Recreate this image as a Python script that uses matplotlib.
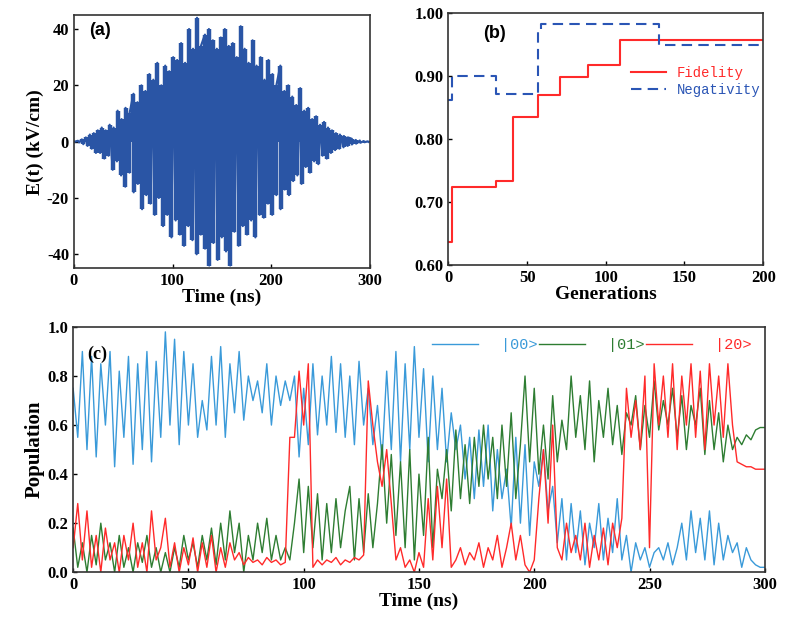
import numpy as np
import matplotlib
matplotlib.use('Agg')
import matplotlib.pyplot as plt

plt.rcParams['font.family'] = ['Liberation Serif', 'DejaVu Serif']
plt.rcParams['font.weight'] = 'bold'
plt.rcParams['axes.unicode_minus'] = False

# (a) field peaks, upper and lower
field_top = [0, 0.3, 0.8, 1.5, 2.5, 3, 4, 5, 4, 6, 5, 11, 8, 12, 10, 17, 14, 20, 18, 24,
             22, 28, 20, 27, 25, 30, 29, 35, 28, 40, 33, 44, 34, 38, 40, 36, 33, 37, 40, 34,
             35, 30, 41, 33, 28, 36, 27, 30, 22, 29, 24, 20, 27, 18, 20, 16, 13, 19, 11, 12,
             8, 9, 6, 7, 5, 4, 3, 2.5, 2, 1.5, 1, 0.6, 0.4, 0.2, 0.1]
field_bot = [0, -0.3, -0.9, -1.5, -2.5, -4, -4, -6, -5, -10, -7, -12, -16, -11, -18, -15,
             -24, -19, -22, -26, -20, -30, -26, -34, -28, -33, -37, -30, -35, -40, -33, -38,
             -44, -36, -42, -34, -39, -44, -32, -37, -30, -33, -28, -34, -26, -27, -22, -26,
             -19, -24, -17, -19, -14, -12, -15, -9, -11, -7, -8, -5, -6, -4, -3, -2.5, -2,
             -1.5, -1, -0.7, -0.4, -0.2, -0.1]

# (b) step data
fid_gen = [0, 2, 30, 41, 57, 71, 89, 109, 200]
fid_val = [0.637, 0.724, 0.734, 0.835, 0.870, 0.898, 0.918, 0.957, 0.957]
neg_gen = [0, 2, 30, 57, 59, 134, 200]
neg_val = [0.862, 0.900, 0.872, 0.975, 0.982, 0.950, 0.950]

# (c) populations every 2 ns
pop00 = [0.75,0.55,0.9,0.5,0.88,0.47,0.85,0.6,0.9,0.43,
         0.82,0.55,0.88,0.44,0.85,0.5,0.9,0.45,0.86,0.55,
         0.98,0.6,0.95,0.52,0.9,0.6,0.85,0.55,0.7,0.58,
         0.88,0.6,0.92,0.55,0.85,0.65,0.9,0.62,0.8,0.7,
         0.78,0.65,0.85,0.6,0.8,0.68,0.78,0.7,0.8,0.47,
         0.75,0.52,0.85,0.56,0.8,0.6,0.88,0.57,0.85,0.55,
         0.8,0.52,0.86,0.6,0.75,0.52,0.68,0.46,0.82,0.5,
         0.9,0.45,0.85,0.5,0.92,0.55,0.83,0.45,0.8,0.5,
         0.75,0.45,0.65,0.5,0.6,0.38,0.55,0.3,0.58,0.35,
         0.6,0.25,0.5,0.3,0.42,0.18,0.55,0.2,0.52,0.15,
         0.45,0.35,0.5,0.25,0.35,0.12,0.3,0.05,0.28,0.08,
         0.25,0.03,0.2,0.1,0.28,0.05,0.22,0.08,0.3,0.05,
         0.15,0.0,0.12,0.05,0.1,0.02,0.08,0.1,0.05,0.12,
         0.03,0.1,0.2,0.05,0.25,0.08,0.22,0.05,0.25,0.03,
         0.2,0.05,0.15,0.08,0.12,0.02,0.1,0.05,0.03,0.02,
         0.02]
pop01 = [0.18,0.02,0.12,0.0,0.15,0.03,0.2,0.05,0.12,0.0,
         0.15,0.02,0.1,0.0,0.12,0.04,0.15,0.02,0.1,0.0,
         0.08,0.0,0.1,0.02,0.15,0.05,0.12,0.02,0.15,0.05,
         0.18,0.03,0.2,0.05,0.25,0.08,0.2,0.0,0.15,0.05,
         0.2,0.08,0.22,0.05,0.15,0.05,0.1,0.05,0.2,0.38,
         0.08,0.35,0.1,0.32,0.05,0.28,0.08,0.3,0.1,0.25,
         0.35,0.05,0.3,0.08,0.32,0.1,0.28,0.52,0.2,0.48,
         0.15,0.45,0.1,0.5,0.05,0.4,0.15,0.55,0.1,0.42,
         0.3,0.5,0.25,0.58,0.3,0.52,0.28,0.55,0.35,0.6,
         0.38,0.55,0.3,0.6,0.35,0.65,0.3,0.52,0.8,0.45,
         0.75,0.4,0.6,0.38,0.72,0.45,0.62,0.5,0.8,0.55,
         0.72,0.5,0.78,0.45,0.7,0.55,0.75,0.52,0.68,0.48,
         0.65,0.6,0.72,0.5,0.68,0.55,0.78,0.58,0.7,0.6,
         0.75,0.55,0.72,0.5,0.68,0.6,0.75,0.48,0.7,0.5,
         0.65,0.45,0.6,0.5,0.55,0.52,0.56,0.54,0.58,0.59,
         0.59]
pop20 = [0.1,0.28,0.05,0.25,0.02,0.15,0.0,0.18,0.05,0.12,
         0.0,0.15,0.05,0.2,0.02,0.12,0.0,0.25,0.05,0.1,
         0.22,0.02,0.12,0.0,0.1,0.03,0.14,0.0,0.12,0.02,
         0.15,0.0,0.1,0.02,0.12,0.05,0.08,0.03,0.06,0.04,
         0.05,0.03,0.06,0.04,0.05,0.03,0.04,0.55,0.55,0.82,
         0.6,0.85,0.02,0.05,0.03,0.05,0.04,0.06,0.03,0.05,
         0.04,0.06,0.05,0.07,0.78,0.6,0.45,0.35,0.5,0.28,
         0.05,0.1,0.02,0.05,0.0,0.08,0.02,0.3,0.05,0.35,
         0.1,0.38,0.02,0.05,0.1,0.03,0.08,0.05,0.12,0.02,
         0.1,0.05,0.15,0.02,0.1,0.2,0.05,0.15,0.03,0.0,
         0.05,0.3,0.5,0.2,0.6,0.1,0.05,0.2,0.08,0.15,
         0.05,0.2,0.02,0.15,0.05,0.18,0.03,0.2,0.1,0.22,
         0.75,0.55,0.7,0.5,0.8,0.1,0.85,0.6,0.8,0.55,
         0.85,0.5,0.8,0.6,0.85,0.55,0.82,0.5,0.85,0.6,
         0.8,0.55,0.85,0.6,0.45,0.44,0.43,0.43,0.42,0.42,
         0.42]

fig = plt.figure(figsize=(7.95, 6.24), dpi=100)
ax_a = fig.add_axes([0.093, 0.57, 0.372, 0.406])
ax_b = fig.add_axes([0.564, 0.575, 0.396, 0.404])
ax_c = fig.add_axes([0.092, 0.083, 0.870, 0.393])

# (a) interleave upper and lower peaks, fill with dense strokes
t_top = np.linspace(0, 298, len(field_top))
t_bot = np.linspace(1, 299, len(field_bot))
tt = np.concatenate([t_top, t_bot])
ee = np.concatenate([field_top, field_bot])
order = np.argsort(tt)
blue_a = '#2a55a5'
ax_a.vlines(tt, 0, ee, color=blue_a, lw=3.2)
ax_a.plot(tt[order], ee[order], color=blue_a, lw=1.6)
ax_a.set_xlim(0, 300)
ax_a.set_ylim(-45, 45)
ax_a.set_xticks([0, 100, 200, 300])
ax_a.set_yticks([-40, -20, 0, 20, 40])
ax_a.set_xlabel('Time (ns)', fontsize=14, fontweight='bold', labelpad=0)
ax_a.set_ylabel('E(t) (kV/cm)', fontsize=14, fontweight='bold', labelpad=2)
ax_a.text(0.05, 0.92, '(a)', transform=ax_a.transAxes, fontsize=13, fontweight='bold',
          family=['Liberation Sans'])

# (b)
ax_b.plot(fid_gen, fid_val, color='#ff2a2a', lw=1.5, drawstyle='steps-post', label='Fidelity')
ax_b.plot(neg_gen, neg_val, color='#2a55b5', lw=1.5, ls=(0, (5, 3)), drawstyle='steps-post',
          label='Negativity')
ax_b.set_xlim(0, 200)
ax_b.set_ylim(0.6, 1.0)
ax_b.set_xticks([0, 50, 100, 150, 200])
ax_b.set_yticks([0.6, 0.7, 0.8, 0.9, 1.0])
ax_b.set_yticklabels(['0.60', '0.70', '0.80', '0.90', '1.00'])
ax_b.set_xlabel('Generations', fontsize=14, fontweight='bold', labelpad=0)
ax_b.text(0.11, 0.9, '(b)', transform=ax_b.transAxes, fontsize=13, fontweight='bold',
          family=['Liberation Sans'])
leg = ax_b.legend(loc='upper left', bbox_to_anchor=(0.54, 0.84), frameon=False,
                  prop={'family': 'Liberation Mono', 'size': 10, 'weight': 'normal'},
                  handlelength=2.5, labelspacing=0.2)
for txt, c in zip(leg.get_texts(), ['#ff2a2a', '#2a55b5']):
    txt.set_color(c)

# (c)
tc = np.linspace(0, 300, len(pop00))
ax_c.plot(tc, pop00, color='#3a9ad9', lw=1.0, label='|00>')
ax_c.plot(tc, pop01, color='#2e7d32', lw=1.0, label='|01>')
ax_c.plot(tc, pop20, color='#ff2a2a', lw=1.0, label='|20>')
ax_c.set_xlim(0, 300)
ax_c.set_ylim(0, 1.0)
ax_c.set_xticks([0, 50, 100, 150, 200, 250, 300])
ax_c.set_yticks([0, 0.2, 0.4, 0.6, 0.8, 1.0])
ax_c.set_yticklabels(['0.0', '0.2', '0.4', '0.6', '0.8', '1.0'])
ax_c.set_xlabel('Time (ns)', fontsize=14, fontweight='bold', labelpad=0)
ax_c.set_ylabel('Population', fontsize=15, fontweight='bold', labelpad=2)
ax_c.text(0.02, 0.87, '(c)', transform=ax_c.transAxes, fontsize=13, fontweight='bold')
leg = ax_c.legend(loc='upper right', ncol=3, frameon=False, bbox_to_anchor=(1.0, 1.01),
                  prop={'family': 'Liberation Mono', 'size': 11, 'weight': 'normal'},
                  handlelength=3, columnspacing=0.1, handletextpad=1.5)
for txt, c in zip(leg.get_texts(), ['#3a9ad9', '#2e7d32', '#ff2a2a']):
    txt.set_color(c)

for ax in (ax_a, ax_b, ax_c):
    ax.tick_params(direction='in', labelsize=12, width=1, length=3)
    for lab in ax.get_xticklabels() + ax.get_yticklabels():
        lab.set_fontweight('bold')
    for s in ax.spines.values():
        s.set_linewidth(1.2)
        s.set_color('#333333')

fig.savefig('out.png', dpi=100)
